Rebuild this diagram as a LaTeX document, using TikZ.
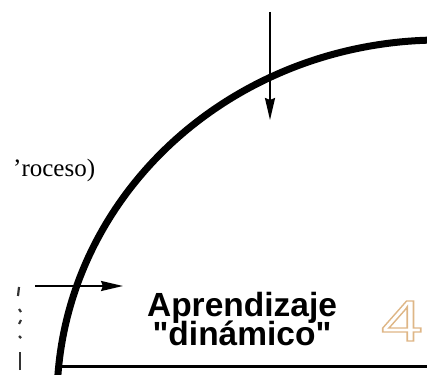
\documentclass[tikz,border=0pt]{standalone}
\usepackage{fontspec}
\setmainfont{Liberation Serif}
\setsansfont{Liberation Sans}
\newfontfamily\headfont{Liberation Sans}
\usetikzlibrary{arrows.meta}
\definecolor{fourtan}{RGB}{222,182,134}
\tikzset{
  flow/.style={line width=2pt, -{Stealth[length=22pt,width=10pt,inset=2pt]}},
  crumb/.style={line width=2.2pt, black!80},
}
\begin{document}
\begin{tikzpicture}[x=1pt,y=1pt]
    \useasboundingbox (0,0) rectangle (427,374);
    \clip (0,0) rectangle (427,374);
    % Curve
    \draw[line width=7pt] (440,-26) ++(178:383pt and 360pt) arc[start angle=178, end angle=80, x radius=383pt, y radius=360pt];
    % Base line
    \coordinate (baseL) at (58,8);
    \coordinate (baseR) at (427,8);
    \draw[line width=3pt] (baseL) -- (baseR);
    % Arrows
    \coordinate (topS) at (270,362);
    \coordinate (topE) at (270,254);
    \draw[flow] (topS) -- (topE);
    \coordinate (leftS) at (35,88);
    \coordinate (leftE) at (123,88);
    \draw[flow] (leftS) -- (leftE);
    % Labels
    \node[anchor=base, inner sep=0pt, font=\headfont\bfseries\fontsize{33.5}{26}\selectfont] (aprend) at (242,57) {Aprendizaje};
    \node[anchor=base, inner sep=0pt, font=\headfont\bfseries\fontsize{33.5}{26}\selectfont] (dinam) at (242,29) {"dinámico"};
    \node[anchor=base west, inner sep=0pt, font=\fontsize{25}{30}\selectfont] (proc) at (13,197) {'roceso)};
    \node[anchor=base, inner sep=0pt, text=fourtan, font=\headfont\fontsize{58}{60}\selectfont] (num) at (402,33) {\scalebox{1.3}[1]{\special{pdf:literal direct 1 Tr 1.2 w}4\special{pdf:literal direct 0 Tr}}};
    % Cut-off marks at the left edge
    \draw[crumb] (18,78) -- (19,87);
    \draw[crumb] (19,65) -- (21,62);
    \draw[crumb] (19,50) -- (21,54);
    \draw[crumb] (19,38) -- (21,36);
    \draw[crumb] (20,4) -- (20,22);
\end{tikzpicture}
\end{document}
